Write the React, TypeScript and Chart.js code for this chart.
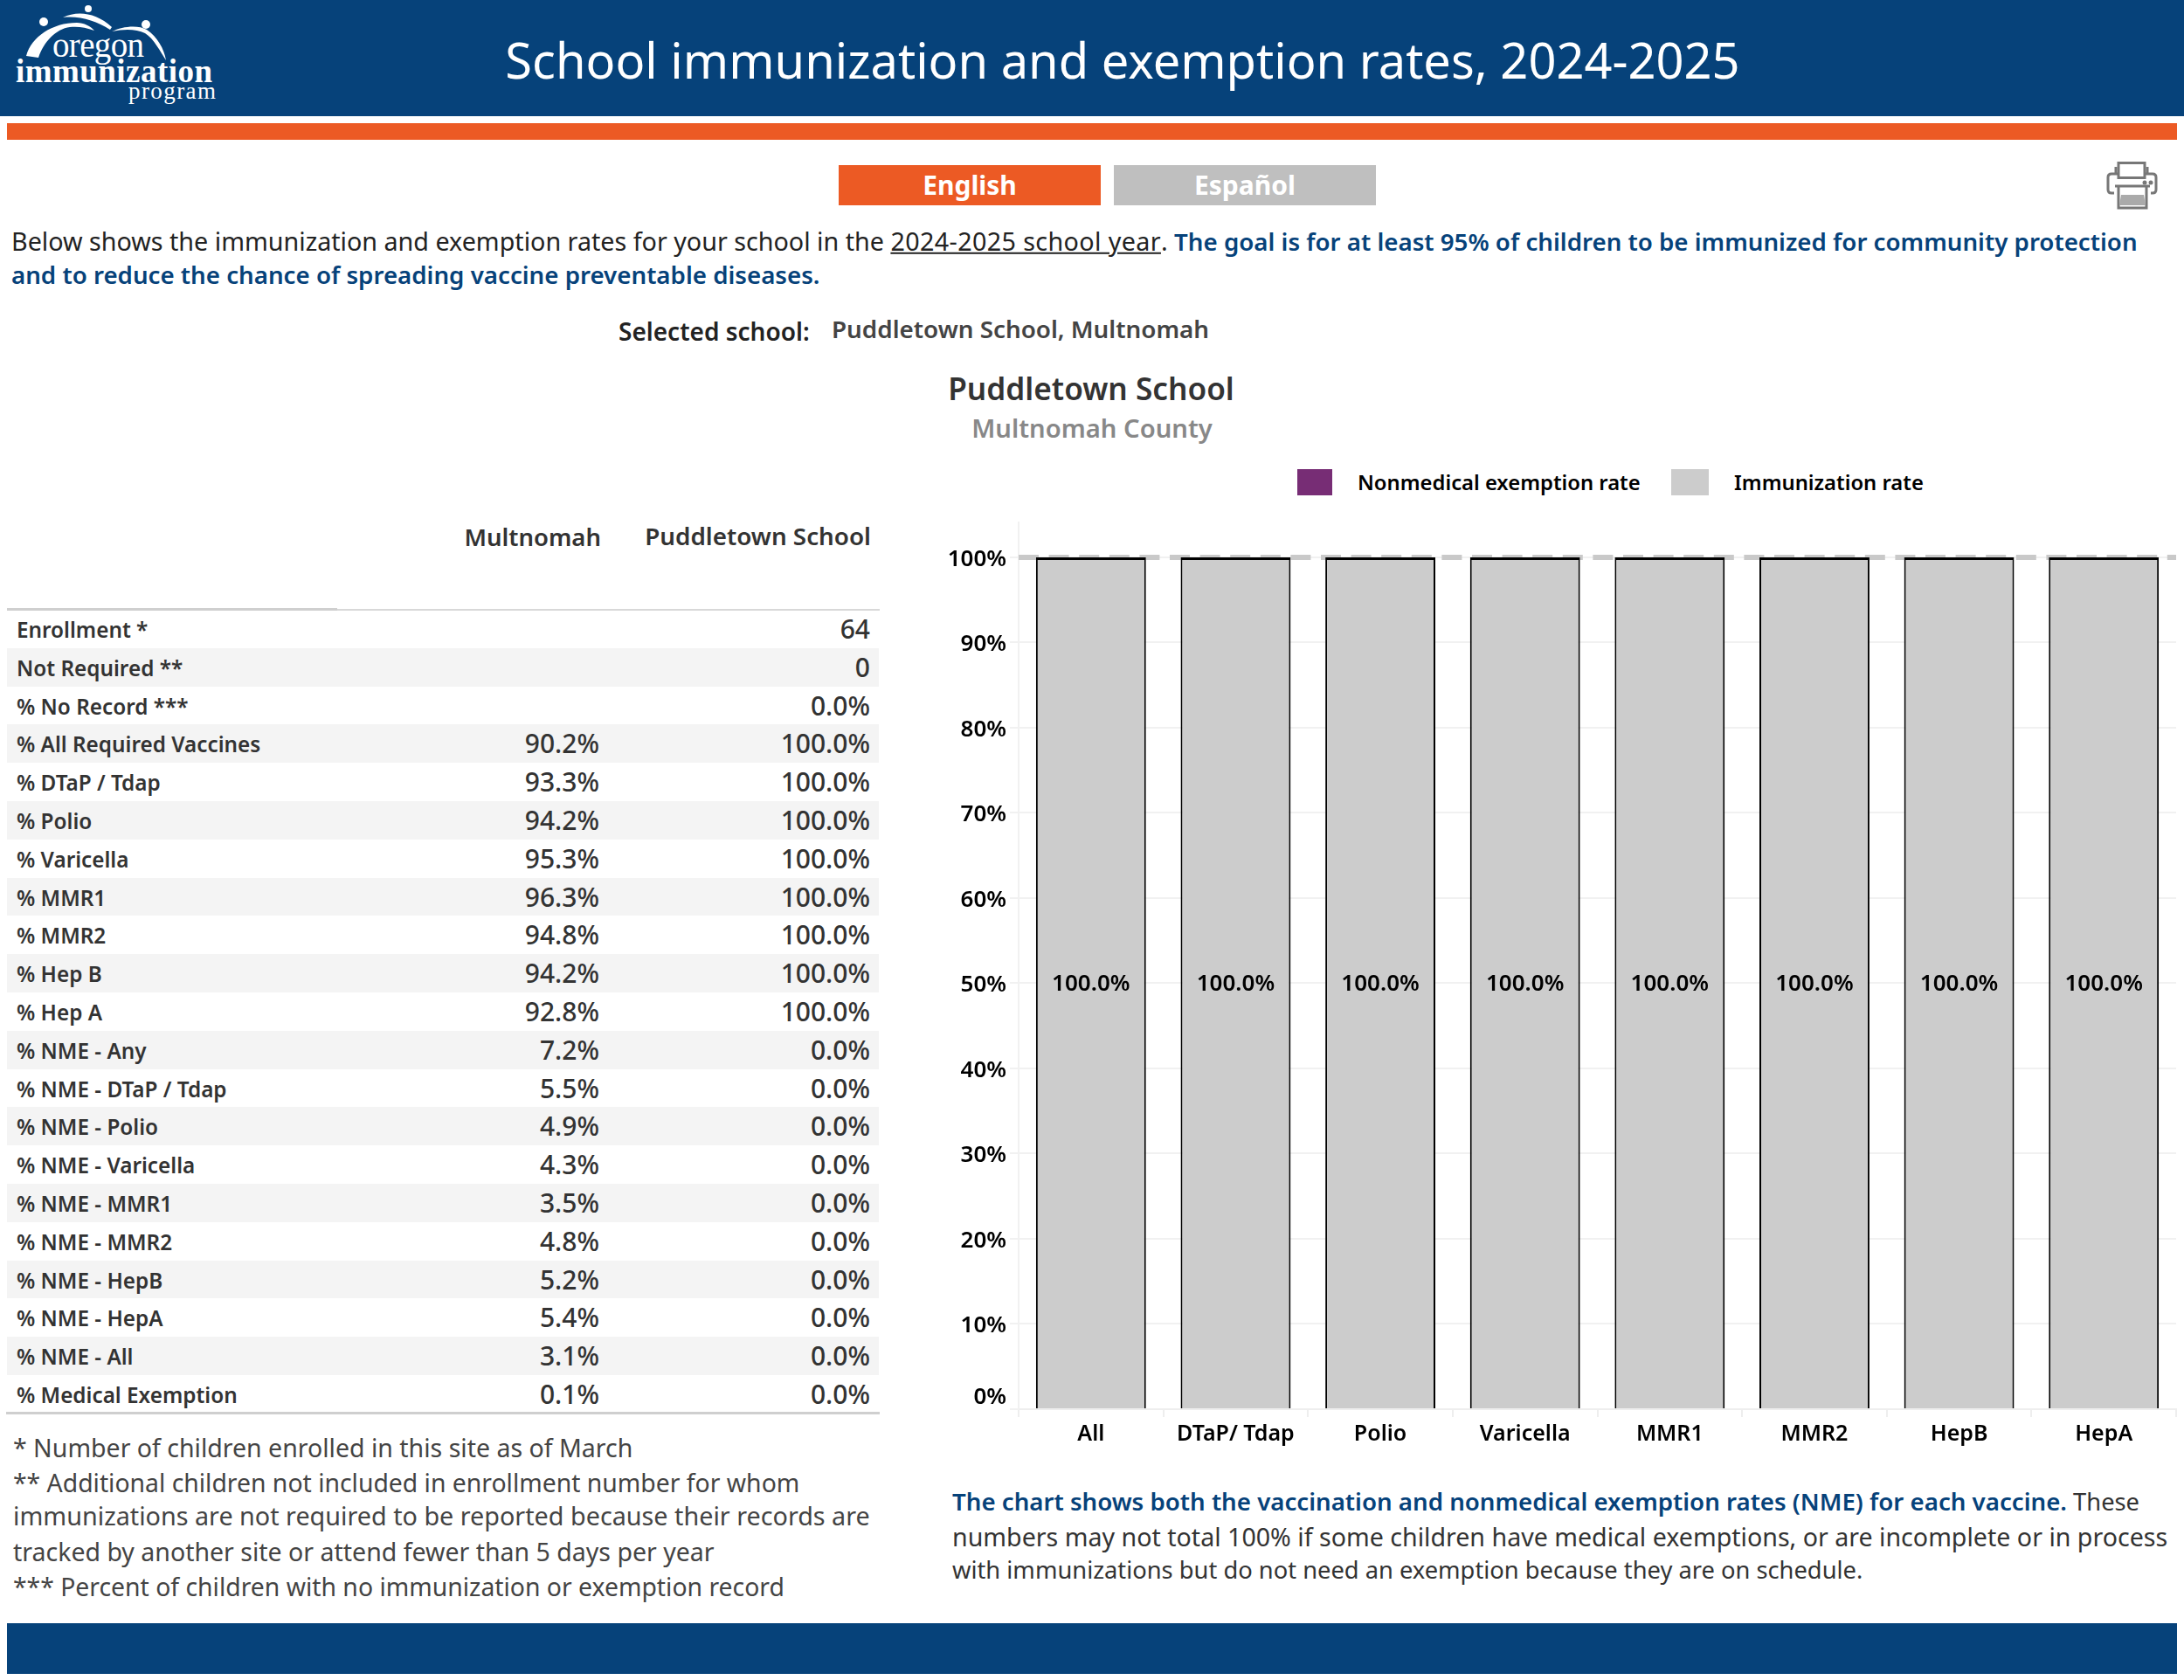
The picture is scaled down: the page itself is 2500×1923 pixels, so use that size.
import React, { useEffect, useRef } from "react";
import { Chart, registerables } from "chart.js";

Chart.register(...registerables);

const categories = ["All", "DTaP/ Tdap", "Polio", "Varicella", "MMR1", "MMR2", "HepB", "HepA"];
const immunizationRates = [100, 100, 100, 100, 100, 100, 100, 100];
const exemptionRates = [0, 0, 0, 0, 0, 0, 0, 0];
const seriesLabels = ["Nonmedical exemption rate", "Immunization rate"];
const referenceValue = 100;

const rowLabels = [
  "Enrollment *", "Not Required **", "% No Record ***", "% All Required Vaccines", "% DTaP / Tdap", "% Polio",
  "% Varicella", "% MMR1", "% MMR2", "% Hep B", "% Hep A", "% NME - Any", "% NME - DTaP / Tdap", "% NME - Polio",
  "% NME - Varicella", "% NME - MMR1", "% NME - MMR2", "% NME - HepB", "% NME - HepA", "% NME - All", "% Medical Exemption",
];
const countyValues = [
  "", "", "", "90.2%", "93.3%", "94.2%", "95.3%", "96.3%", "94.8%", "94.2%", "92.8%",
  "7.2%", "5.5%", "4.9%", "4.3%", "3.5%", "4.8%", "5.2%", "5.4%", "3.1%", "0.1%",
];
const schoolValues = [
  "64", "0", "0.0%", "100.0%", "100.0%", "100.0%", "100.0%", "100.0%", "100.0%", "100.0%", "100.0%",
  "0.0%", "0.0%", "0.0%", "0.0%", "0.0%", "0.0%", "0.0%", "0.0%", "0.0%", "0.0%",
];
const footnotes = [
  "* Number of children enrolled in this site as of March",
  "** Additional children not included in enrollment number for whom",
  "immunizations are not required to be reported because their records are",
  "tracked by another site or attend fewer than 5 days per year",
  "*** Percent of children with no immunization or exemption record",
];

const NAVY = "#06427a";
const ORANGE = "#ec5a24";
const PURPLE = "#772d75";
const BAR = "#cccccc";
const FONT = "'Noto Sans', sans-serif";

type TP = {
  x?: number; r?: number; cx?: number; y: number; size: number; weight?: number; color?: string; children: React.ReactNode; font?: string;
};
function T({ x, r, cx, y, size, weight = 400, color = "#333", children, font = FONT }: TP) {
  const style: React.CSSProperties = {
    position: "absolute", top: y, transform: cx !== undefined ? "translate(-50%,-50%)" : "translateY(-50%)",
    fontFamily: font, fontSize: size, fontWeight: weight, color, whiteSpace: "nowrap", lineHeight: 1.2,
  };
  if (cx !== undefined) style.left = cx;
  else if (r !== undefined) style.right = 2500 - r;
  else style.left = x;
  return <div style={style}>{children}</div>;
}
function Box({ x, y, w, h, c }: { x: number; y: number; w: number; h: number; c: string }) {
  return <div style={{ position: "absolute", left: x, top: y, width: w, height: h, background: c }} />;
}

const referenceLine = {
  id: "referenceLine",
  beforeDatasetsDraw(chart: any) {
    const { ctx, chartArea, scales } = chart;
    const y = scales.y.getPixelForValue(referenceValue);
    ctx.save();
    ctx.strokeStyle = "#c9c9c9";
    ctx.lineWidth = 6;
    ctx.setLineDash([23, 11.6]);
    ctx.beginPath();
    ctx.moveTo(chartArea.left, y);
    ctx.lineTo(chartArea.right, y);
    ctx.stroke();
    ctx.restore();
  },
};

const barLabels = {
  id: "barLabels",
  afterDatasetsDraw(chart: any) {
    const { ctx, scales } = chart;
    const meta = chart.getDatasetMeta(0);
    ctx.save();
    ctx.fillStyle = "#000";
    ctx.font = `600 26px ${FONT}`;
    ctx.textAlign = "center";
    ctx.textBaseline = "middle";
    meta.data.forEach((bar: any, i: number) => {
      const v = immunizationRates[i];
      ctx.fillText(`${v.toFixed(1)}%`, bar.x, scales.y.getPixelForValue(v / 2) + 1.5);
    });
    ctx.restore();
  },
};

export default function App() {
  const ref = useRef<HTMLCanvasElement>(null);
  useEffect(() => {
    const chart = new Chart(ref.current!, {
      type: "bar",
      data: {
        labels: categories,
        datasets: [
          {
            label: seriesLabels[1], data: immunizationRates, backgroundColor: BAR, borderColor: "#000",
            borderWidth: { top: 3, left: 2, right: 2, bottom: 0 }, borderSkipped: false,
          },
          { label: seriesLabels[0], data: exemptionRates, backgroundColor: PURPLE, borderWidth: 0 },
        ],
      },
      options: {
        animation: false, responsive: false, devicePixelRatio: 1,
        layout: { padding: { top: 8, right: 9, left: 0, bottom: 0 } },
        plugins: { legend: { display: false }, tooltip: { enabled: false } },
        datasets: { bar: { categoryPercentage: 1, barPercentage: 0.76 } },
        scales: {
          x: {
            stacked: true,
            grid: { drawOnChartArea: false, color: "#eeeeee", tickLength: 9, lineWidth: 2 },
            border: { color: "#eeeeee", width: 2 },
            ticks: { color: "#000", font: { family: "'Noto Sans'", size: 25, weight: "600" }, padding: 5, maxRotation: 0 },
            afterFit: (s: any) => { s.height = 47; s.paddingLeft = 0; s.paddingRight = 0; },
          },
          y: {
            stacked: true, min: 0, max: 104.1,
            grid: { color: "#f1f1f1", tickLength: 10, lineWidth: 2 },
            border: { color: "#f1f1f1", width: 2 },
            ticks: {
              stepSize: 10, includeBounds: false, color: "#000", padding: 4, labelOffset: 2.5,
              font: { family: "'Noto Sans'", size: 26, weight: "600", lineHeight: 1.25 },
              callback: (v: any) => (v === 0 ? ["0%", ""] : `${v}%`),
            },
            afterFit: (s: any) => { s.width = 106; s.paddingTop = 0; s.paddingBottom = 0; },
          },
        },
      } as any,
      plugins: [referenceLine, barLabels],
    });
    return () => chart.destroy();
  }, []);

  const rowTop = 698;
  const rowH = 43.8;
  const legendSwatches = [PURPLE, BAR];

  return (
    <div style={{ position: "absolute", left: 0, top: 0, width: 2500, height: 1923, background: "#fff", overflow: "hidden" }}>
      <Box x={0} y={0} w={2500} h={133} c={NAVY} />
      <Box x={8} y={141} w={2484} h={19} c={ORANGE} />
      <Box x={8} y={1858} w={2484} h={58} c={NAVY} />

      <svg width={262} height={133} style={{ position: "absolute", left: 0, top: 0 }}>
        <g fill="#fff">
          <path d="M30 64 C36 42 60 26 88 26 C96 26 104 30 108 35 C98 31 88 30 80 31 C64 33 50 48 44 66 Z" />
          <path d="M72 20 C88 12 110 14 128 31 L126 34 C110 24 92 18 72 20 Z" />
          <path d="M128 36 C140 30 158 28 168 34 C180 42 188 56 190 69 C184 60 176 44 166 38 C156 33 142 33 128 36 Z" />
          <circle cx={50} cy={25} r={5} />
          <circle cx={101} cy={10} r={4} />
          <circle cx={167} cy={28} r={5} />
        </g>
        <g fill="#fff" fontFamily="'Liberation Serif', serif">
          <text x={60} y={65} fontSize={39} textLength={105}>oregon</text>
          <text x={18} y={94} fontSize={37} fontWeight={700} textLength={225}>immunization</text>
          <text x={147} y={113} fontSize={27} textLength={100}>program</text>
        </g>
      </svg>
      <T cx={1285} y={69} size={56} color="#fff">School immunization and exemption rates, 2024-2025</T>

      <Box x={960} y={189} w={300} h={46} c={ORANGE} />
      <Box x={1275} y={189} w={300} h={46} c="#bfbfbf" />
      <T cx={1110} y={212} size={30} weight={700} color="#fff">English</T>
      <T cx={1425} y={212} size={30} weight={700} color="#fff">Español</T>

      <svg width={60} height={55} viewBox="0 0 60 55" style={{ position: "absolute", left: 2411, top: 185 }}>
        <g fill="none" stroke="#777" strokeWidth={3}>
          <path d="M9 36 H6 Q2 36 2 32 V18 Q2 14 6 14 H53 Q57 14 57 18 V32 Q57 36 53 36 H51" />
          <rect x={14} y={1.5} width={30} height={17} fill="#fff" />
          <path d="M11 6 L11 13 M47 6 L47 13" />
          <path d="M10 28 H50 M14 29 V53 H46 V29" />
        </g>
        <path d="M17 38 H43 L45 50 H15 Z" fill="#aaa" />
        <circle cx={44} cy={24} r={2.5} fill="#777" />
        <circle cx={51} cy={24} r={2.5} fill="#777" />
      </svg>

      <T x={13} y={276} size={28.7} color="#222">
        Below shows the immunization and exemption rates for your school in the{" "}
        <span style={{ textDecoration: "underline", letterSpacing: 0.38 }}>2024-2025 school year</span>.{" "}
        <span style={{ color: NAVY, fontWeight: 600, fontSize: 27.7 }}>The goal is for at least 95% of children to be immunized for community protection</span>
      </T>
      <T x={13} y={315} size={27.7} weight={600} color={NAVY}>and to reduce the chance of spreading vaccine preventable diseases.</T>

      <T x={708} y={380} size={28} weight={600} color="#222">Selected school:</T>
      <T x={952} y={377} size={27.8} weight={600} color="#444">Puddletown School, Multnomah</T>
      <T cx={1249} y={444} size={35.2} weight={600} color="#333">Puddletown School</T>
      <T cx={1250} y={491} size={29.2} weight={600} color="#888">Multnomah County</T>

      {legendSwatches.map((c, i) => (
        <Box key={c} x={[1485, 1913][i]} y={537} w={[40, 43][i]} h={30} c={c} />
      ))}
      <T x={1554} y={552} size={23.8} weight={600} color="#000">{seriesLabels[0]}</T>
      <T x={1985} y={552} size={23.8} weight={600} color="#000">{seriesLabels[1]}</T>

      <T r={688} y={614} size={27.5} weight={600}>Multnomah</T>
      <T r={997} y={614} size={27.8} weight={600}>Puddletown School</T>

      <Box x={8} y={696} w={378} h={3} c="#cfcfcf" />
      <Box x={386} y={697} w={621} h={2} c="#d8d8d8" />
      {rowLabels.map((label, i) => (
        <React.Fragment key={label}>
          {i % 2 === 1 && <Box x={8} y={rowTop + i * rowH} w={998} h={rowH} c="#f4f4f4" />}
          <T x={19} y={rowTop + (i + 0.5) * rowH + 1} size={24.3} weight={600}>{label}</T>
          {countyValues[i] && <T r={686} y={rowTop + (i + 0.5) * rowH} size={30} weight={500}>{countyValues[i]}</T>}
          <T r={996} y={rowTop + (i + 0.5) * rowH} size={30} weight={500}>{schoolValues[i]}</T>
        </React.Fragment>
      ))}
      <Box x={7} y={1616} w={1000} h={3} c="#cfcfcf" />

      {footnotes.map((line, i) => (
        <T key={line} x={15} y={[1657, 1697, 1735, 1776, 1816][i]} size={[28.5, 28.35, 28.75, 28.5, 28.35][i]} color="#444">{line}</T>
      ))}

      <T x={1090} y={1719} size={27.3} color="#333">
        <span style={{ color: NAVY, fontWeight: 600, fontSize: 27.67 }}>The chart shows both the vaccination and nonmedical exemption rates (NME) for each vaccine.</span> These
      </T>
      <T x={1090} y={1759} size={28.6} color="#333">numbers may not total 100% if some children have medical exemptions, or are incomplete or in process</T>
      <T x={1090} y={1797} size={27.3} color="#333">with immunizations but do not need an exemption because they are on schedule.</T>

      <canvas ref={ref} width={1440} height={1070} style={{ position: "absolute", left: 1060, top: 590, width: 1440, height: 1070 }} />
    </div>
  );
}
